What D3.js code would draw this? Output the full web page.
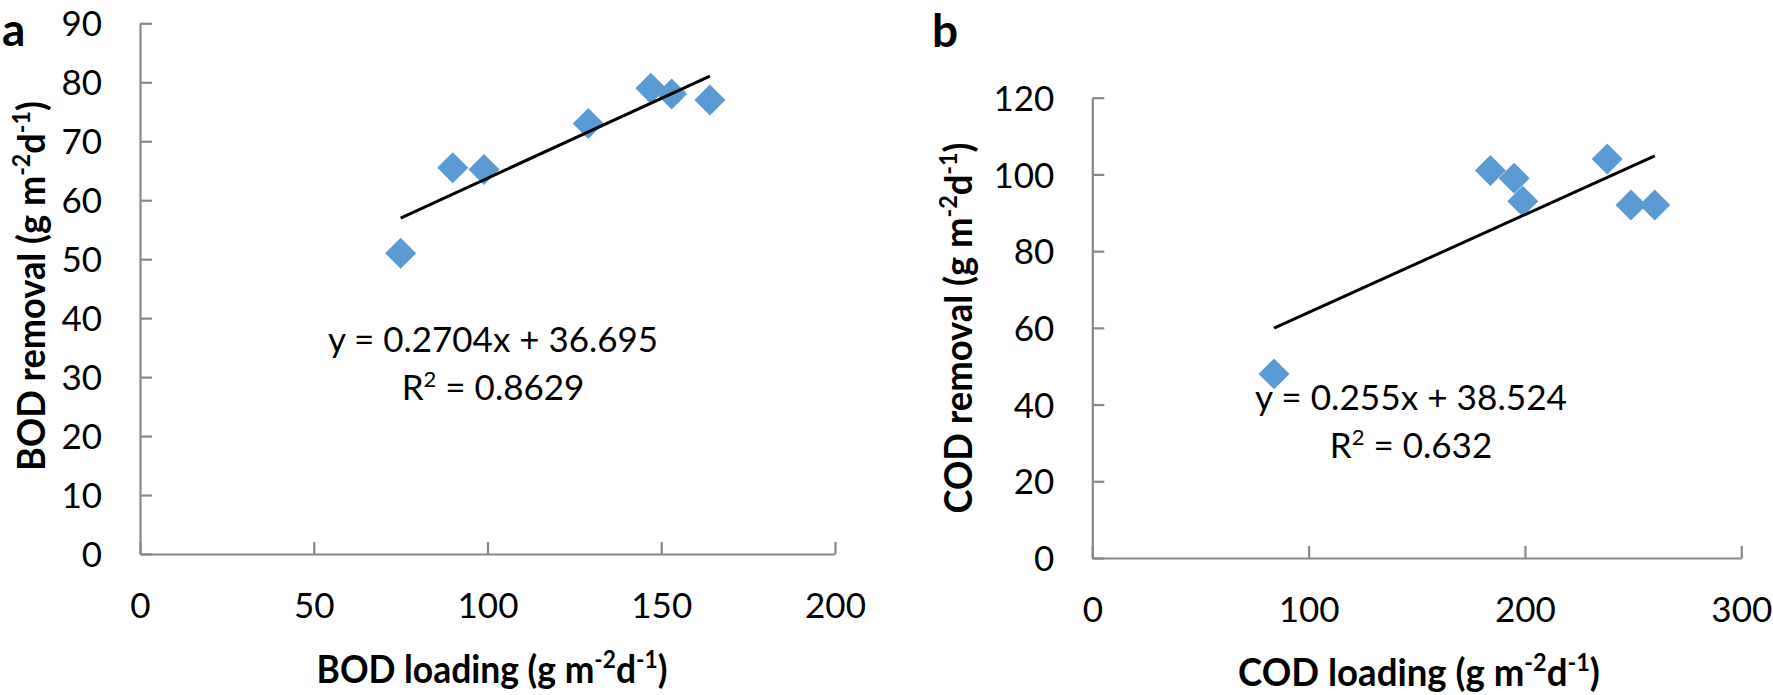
<!DOCTYPE html>
<html>
<head>
<meta charset="utf-8">
<script src="https://cdn.jsdelivr.net/npm/d3@7"></script>
<style>
  html, body { margin: 0; padding: 0; background: #fff; }
  svg { display: block; }
  text { font-family: Lato, "Open Sans", sans-serif; fill: #000; }
</style>
</head>
<body>
<svg id="chart" width="1773" height="695"></svg>
<script>
// ---- Data ----
const bodLoading = [75, 90, 99, 129, 147, 153, 164];
const bodRemoval = [51, 65.5, 65.2, 73, 79, 78, 77];
const bodFit = { slope: 0.2704, intercept: 36.695, r2: "0.8629" };
const bodXTicks = [0, 50, 100, 150, 200];
const bodYTicks = [0, 10, 20, 30, 40, 50, 60, 70, 80, 90];

const codLoading = [84, 184, 195, 199, 238, 249, 260];
const codRemoval = [48, 101, 99, 93, 104, 92, 92];
const codFit = { slope: 0.255, intercept: 38.524, r2: "0.632" };
const codXTicks = [0, 100, 200, 300];
const codYTicks = [0, 20, 40, 60, 80, 100, 120];

const svg = d3.select("#chart");
const axisColor = "#888888";
const markerColor = "#5b9bd5";

function panel(cfg) {
  const g = svg.append("g");
  const x = d3.scaleLinear().domain(cfg.xDomain).range(cfg.xRange);
  const y = d3.scaleLinear().domain(cfg.yDomain).range(cfg.yRange);

  // y axis
  const ya = g.append("g")
    .attr("transform", `translate(${cfg.xRange[0]},0)`)
    .call(d3.axisLeft(y).tickValues(cfg.yTicks).tickSizeInner(-12).tickSizeOuter(0).tickPadding(38));
  // x axis
  const xa = g.append("g")
    .attr("transform", `translate(0,${cfg.yRange[0]})`)
    .call(d3.axisBottom(x).tickValues(cfg.xTicks).tickSizeInner(-12).tickSizeOuter(0).tickPadding(39));
  [ya, xa].forEach(a => {
    a.select(".domain").attr("stroke", axisColor).attr("stroke-width", 2.2);
    a.selectAll(".tick line").attr("stroke", axisColor).attr("stroke-width", 2.2);
    a.selectAll(".tick text").attr("font-size", 35).attr("font-family", "Lato").attr("fill", "#000");
  });
  ya.selectAll(".tick text").attr("dy", "0.36em");

  // markers
  const pts = cfg.xs.map((v, i) => [v, cfg.ys[i]]);
  const sym = d3.symbol().type(d3.symbolSquare).size(480);
  g.append("g").selectAll("path").data(pts).join("path")
    .attr("d", sym)
    .attr("transform", d => `translate(${x(d[0])},${y(d[1])}) rotate(45)`)
    .attr("fill", markerColor);

  // trendline
  const x0 = d3.min(cfg.xs), x1 = d3.max(cfg.xs);
  const f = v => cfg.fit.slope * v + cfg.fit.intercept;
  g.append("line")
    .attr("x1", x(x0)).attr("y1", y(f(x0)))
    .attr("x2", x(x1)).attr("y2", y(f(x1)))
    .attr("stroke", "#000").attr("stroke-width", 3);

  // equation
  g.append("text").attr("x", cfg.eqPos[0]).attr("y", cfg.eqPos[1])
    .attr("text-anchor", "middle").attr("font-size", 35)
    .attr("textLength", cfg.eqLen).attr("lengthAdjust", "spacingAndGlyphs")
    .text(`y = ${cfg.fit.slope}x + ${cfg.fit.intercept}`);
  const r = g.append("text").attr("x", cfg.eqPos[0]).attr("y", cfg.eqPos[1] + 48)
    .attr("text-anchor", "middle").attr("font-size", 35);
  r.append("tspan").text("R");
  r.append("tspan").attr("font-size", 22).attr("dy", -13).text("2");
  r.append("tspan").attr("dy", 13).text(` = ${cfg.fit.r2}`);

  // axis titles (scaled horizontally to the reference width)
  function title(baseTransform, label, len) {
    const t = g.append("text").attr("font-size", 39).attr("font-weight", "bold")
      .attr("text-anchor", "middle");
    t.append("tspan").text(label + " (g m");
    t.append("tspan").attr("font-size", 25).attr("dy", -15).text("-2");
    t.append("tspan").attr("dy", 15).text("d");
    t.append("tspan").attr("font-size", 25).attr("dy", -15).text("-1");
    t.append("tspan").attr("dy", 15).text(")");
    const w = t.node().getBBox().width || len;
    t.attr("transform", `${baseTransform} scale(${len / w},1)`);
  }
  title(`translate(${cfg.xTitle[0]},${cfg.xTitle[1]})`, cfg.xLabel, cfg.xTitleLen);
  title(`translate(${cfg.yTitle[0]},${cfg.yTitle[1]}) rotate(-90)`, cfg.yLabel, cfg.yTitleLen);

  // panel letter
  g.append("text").attr("x", cfg.letterPos[0]).attr("y", cfg.letterPos[1])
    .attr("font-size", 46).attr("font-weight", "bold").text(cfg.letter);
}

panel({
  xs: bodLoading, ys: bodRemoval, fit: bodFit,
  xDomain: [0, 200], yDomain: [0, 90],
  xRange: [140, 835], yRange: [554, 23.3],
  xTicks: bodXTicks, yTicks: bodYTicks,
  eqPos: [493, 352], eqLen: 330,
  xLabel: "BOD loading", yLabel: "BOD removal",
  xTitle: [492, 683], yTitle: [45, 286], xTitleLen: 351, yTitleLen: 370,
  letter: "a", letterPos: [2, 46]
});

panel({
  xs: codLoading, ys: codRemoval, fit: codFit,
  xDomain: [0, 300], yDomain: [0, 120],
  xRange: [1092.3, 1741.3], yRange: [558, 97.7],
  xTicks: codXTicks, yTicks: codYTicks,
  eqPos: [1411, 410], eqLen: 312,
  xLabel: "COD loading", yLabel: "COD removal",
  xTitle: [1419, 686], yTitle: [972, 328], xTitleLen: 362, yTitleLen: 371,
  letter: "b", letterPos: [932, 47]
});
</script>
</body>
</html>
